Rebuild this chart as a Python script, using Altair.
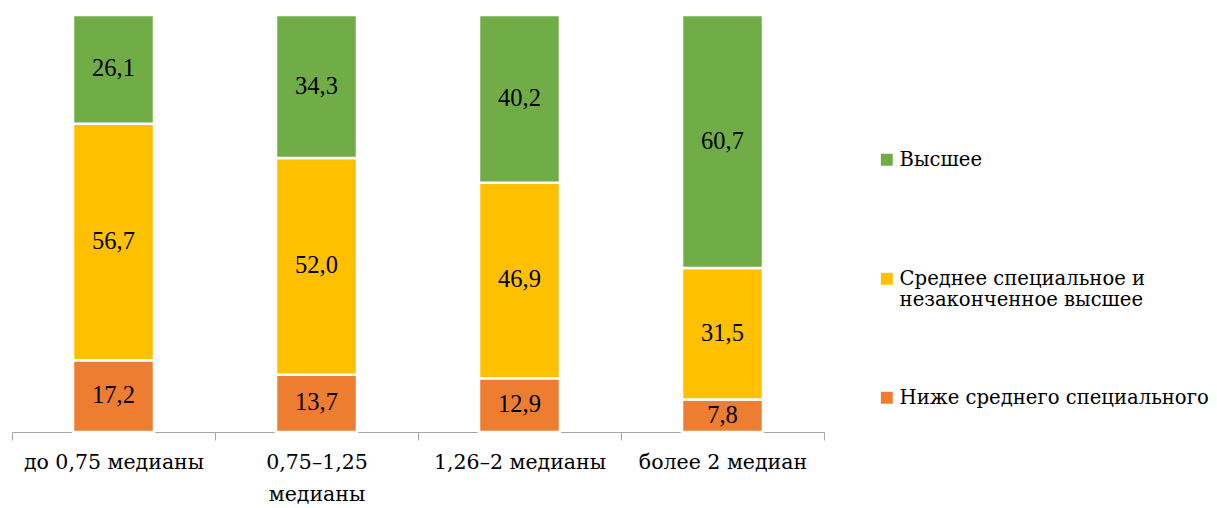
import altair as alt
import pandas as pd

categories = ["до 0,75 медианы", "0,75–1,25\nмедианы", "1,26–2 медианы", "более 2 медиан"]
series = ["Высшее", "Среднее специальное и\nнезаконченное высшее", "Ниже среднего специального"]
colors = ["#70AD47", "#FFC000", "#ED7D31"]
# values per series, in category order
higher = [26.1, 34.3, 40.2, 60.7]
middle = [56.7, 52.0, 46.9, 31.5]
lower = [17.2, 13.7, 12.9, 7.8]

rows = []
for vals, s, order in [(lower, series[2], 0), (middle, series[1], 1), (higher, series[0], 2)]:
    for c, v in zip(categories, vals):
        rows.append({"cat": c, "series": s, "value": v, "order": order,
                     "label": f"{v:.1f}".replace(".", ",")})
df = pd.DataFrame(rows)

TEXT_FONT = "DejaVu Serif"
NUM_FONT = "Liberation Serif"

base = alt.Chart(df).encode(
    x=alt.X("cat:N", sort=categories, title=None,
            scale=alt.Scale(paddingInner=0, paddingOuter=0),
            axis=alt.Axis(labelAngle=0, tickBand="extent", domainColor="#A6A6A6",
                          tickColor="#A6A6A6", tickSize=8, labelPadding=12,
                          labelFont=TEXT_FONT, labelFontSize=20.5, labelColor="#000000",
                          labelLineHeight=32.5, labelBaseline="top", labelLimit=300,
                          labelExpr="split(datum.label, '\\n')")),
    y=alt.Y("value:Q", stack="zero", scale=alt.Scale(domain=[0, 100]), axis=None),
    order=alt.Order("order:Q", sort="ascending"),
)

bars = base.mark_bar(size=81, stroke="white", strokeWidth=2.5).encode(
    color=alt.Color("series:N", sort=series,
                    scale=alt.Scale(domain=series, range=colors),
                    legend=alt.Legend(title=None, orient="none", legendX=865, legendY=135,
                                      symbolType="square", symbolSize=180,
                                      labelFont=TEXT_FONT, labelFontSize=19.6, labelColor="#000000",
                                      labelBaseline="middle", labelOffset=3,
                                      gridAlign="all", rowPadding=77, labelLimit=400,
                                      labelExpr="split(datum.label, '\\n')")),
)

text = base.mark_text(font=NUM_FONT, fontSize=24.5, color="#000000").encode(
    y=alt.Y("mid:Q", scale=alt.Scale(domain=[0, 100]), axis=None),
    text="label:N",
).transform_stack(stack="value", groupby=["cat"], sort=[alt.SortField("order")],
                  as_=["y0", "y1"]).transform_calculate(mid="(datum.y0 + datum.y1) / 2")

chart = alt.layer(bars, text).properties(
    width=812, height=417,
    padding={"left": 3, "top": 5, "right": 0, "bottom": 0},
).configure_view(stroke=None)

chart.save("out.html", embed_options={"renderer": "svg", "actions": False})
